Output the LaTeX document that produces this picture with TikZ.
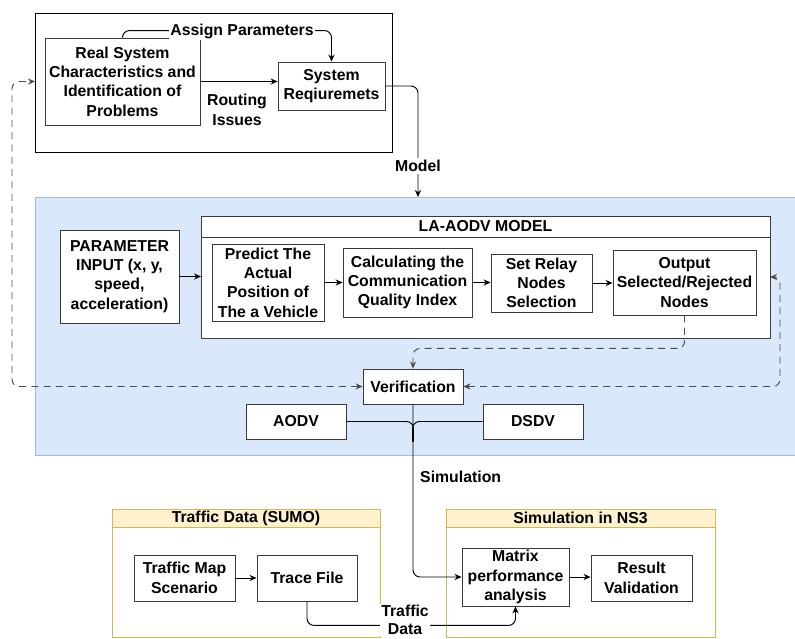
\documentclass[tikz,border=0pt]{standalone}
\usepackage{fontspec}
\setmainfont{Liberation Sans}
\usetikzlibrary{arrows.meta,fit}
\definecolor{blueFill}{HTML}{DAE8FC}
\definecolor{blueLine}{HTML}{9DB9E2}
\definecolor{yelFill}{HTML}{FFF2CC}
\definecolor{yelLine}{HTML}{D6B656}
\definecolor{boxLine}{HTML}{3A3A3A}
\tikzset{
	box/.style={draw=boxLine, fill=white, align=center, inner sep=0pt, line width=0.5pt},
	frame/.style={inner sep=0pt, outer sep=0pt, line width=0.5pt},
	lbl/.style={align=center, inner sep=1pt},
	conn/.style={rounded corners=4pt},
	tip/.style={conn, -{Stealth[length=4pt,width=3.5pt]}},
	both/.style={conn, {Stealth[length=4pt,width=3.5pt]}-{Stealth[length=4pt,width=3.5pt]}},
	dashline/.style={dashed, dash pattern=on 4pt off 3pt, draw=black!70}
}
\begin{document}
\begin{tikzpicture}[x=0.02cm, y=-0.02cm, line width=0.55pt, font=\bfseries\fontsize{9}{11}\selectfont]
				      \useasboundingbox (0,0) rectangle (795,639);
				      \node (top)[draw, frame, fit={(35,13) (392,152)}] {};
				      \node (blue)[draw=blueLine, fill=blueFill, frame, fit={(35,197) (797,455)}] {};
				      \node (model)[draw=boxLine, fill=white, frame, fit={(201,216) (770,338)}] {};
				      \node (modelhd)[frame, fit={(201,216) (770,237)}] {};
				      \node (modeltt)[lbl] at (modelhd.center) {LA-AODV MODEL};
				      \draw[boxLine, line width=0.5pt] (modelhd.south west) -- (modelhd.south east);
				      \node (sumo)[draw=yelLine, fill=white, frame, fit={(112,509) (380,637)}] {};
				      \node (sumohd)[draw=yelLine, fill=yelFill, frame, fit={(112,509) (380,527)}] {};
				      \node (sumott)[lbl] at (sumohd.center) {Traffic Data (SUMO)};
				      \node (ns)[draw=yelLine, fill=white, frame, fit={(446,509) (715,637)}] {};
				      \node (nshd)[draw=yelLine, fill=yelFill, frame, fit={(446,509) (715,527)}] {};
				      \node (nstt)[lbl] at (nshd.center) {Simulation in NS3};
				      \node (real)[box, minimum width=3.1cm, minimum height=1.74cm] at (122.5,81.5) {Real System\\Characteristics and\\Identification of\\Problems};
				      \node (req)[box, minimum width=2.14cm, minimum height=0.96cm] at (331.5,86) {System\\Reqiuremets};
				      \node (param)[box, minimum width=2.38cm, minimum height=1.86cm] at (119.5,276.5) {PARAMETER\\INPUT (x, y,\\speed,\\acceleration)};
				      \node (pred)[box, minimum width=2.24cm, minimum height=1.54cm] at (268,282.5) {Predict The\\Actual\\Position of\\The a Vehicle};
				      \node (calc)[box, minimum width=2.58cm, minimum height=1.38cm] at (407.5,282.5) {Calculating the\\Communication\\Quality Index};
				      \node (relay)[box, minimum width=2.02cm, minimum height=1.16cm] at (541.5,283) {Set Relay\\Nodes\\Selection};
				      \node (out)[box, minimum width=2.86cm, minimum height=1.3cm] at (684.5,282.5) {Output\\Selected/Rejected\\Nodes};
				      \node (ver)[box, minimum width=2cm, minimum height=0.7cm] at (413,386.5) {Verification};
				      \node (aodv)[box, minimum width=2cm, minimum height=0.7cm] at (296,421.5) {AODV};
				      \node (dsdv)[box, minimum width=2cm, minimum height=0.7cm] at (533,421.5) {DSDV};
				      \node (map)[box, minimum width=2.02cm, minimum height=0.92cm] at (184.5,578) {Traffic Map\\Scenario};
				      \node (trace)[box, minimum width=2cm, minimum height=0.92cm] at (307,578) {Trace File};
				      \node (mat)[box, minimum width=2.14cm, minimum height=1.16cm] at (515.5,577) {Matrix\\performance\\analysis};
				      \node (res)[box, minimum width=2.02cm, minimum height=0.92cm] at (641.5,578) {Result\\Validation};
				      \coordinate (mdl) at (418,197);
				      \draw[tip] (real.north) -- ++(0,-7) -| (req.north);
				      \node (assign)[lbl, fill=white] at (242,31) {Assign Parameters};
				      \draw[tip] (real.east) -- (real.east -| req.west);
				      \node (routing)[lbl] at (237,110) {Routing\\Issues};
				      \draw[tip] (req.east) -| (mdl);
				      \node (mdllbl)[lbl, fill=white] at (418,166) {Model};
				      \draw[tip] (param.east) -- (param.east -| model.west);
				      \draw[tip] (pred.east) -- (pred.east -| calc.west);
				      \draw[tip] (calc.east) -- (calc.east -| relay.west);
				      \draw[tip] (relay.east) -- (relay.east -| out.west);
				      \draw[dashline, tip] (out.south) -- ++(0,33) -| (ver.north);
				      \draw[dashline, both] (ver.east) -- (780,386.5) -- (780,277) -- (model.east);
				      \draw[dashline, both] (ver.west) -- (12,386.5) -- (12,81.5) -- (real.west -| top.west);
				      \draw[conn] (aodv.east) -| ++(67,20);
				      \draw[conn] (dsdv.west) -| ++(-70,20);
				      \draw[tip] (ver.south) |- (mat.west);
				      \node (simlbl)[lbl, anchor=west] at (418,477) {Simulation};
				      \draw[tip] (map.east) -- (trace.west);
				      \draw[tip] (mat.east) -- (mat.east -| res.west);
				      \draw[tip] (trace.south) -- ++(0,24) -| (mat.south);
				      \node (tdlbl)[lbl, fill=white, font=\bfseries\fontsize{9}{10}\selectfont] at (405,620) {Traffic\\Data};
			      \end{tikzpicture}
\end{document}
